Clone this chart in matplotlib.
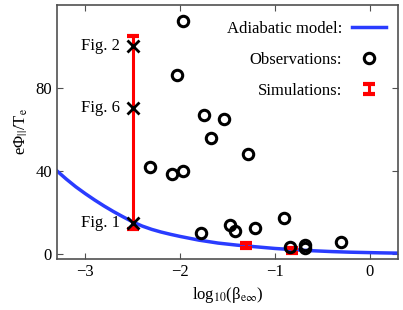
import matplotlib
matplotlib.use("Agg")
import matplotlib.pyplot as plt
from matplotlib.legend_handler import HandlerErrorbar
from matplotlib.container import ErrorbarContainer
import numpy as np

plt.rcParams['font.family'] = ['Liberation Serif', 'DejaVu Serif']
plt.rcParams['mathtext.fontset'] = 'stix'
plt.rcParams['font.size'] = 12

# Adiabatic model curve
model_x = [-3.3, -3.2, -3.1, -3.0, -2.9, -2.8, -2.7, -2.6, -2.5, -2.4, -2.3, -2.2, -2.1, -2.0,
           -1.9, -1.8, -1.7, -1.6, -1.5, -1.4, -1.3, -1.2, -1.1, -1.0, -0.9, -0.8, -0.7, -0.6,
           -0.5, -0.4, -0.3, -0.2, -0.1, 0.0, 0.1, 0.2, 0.3]
model_y = [40.0, 36.0, 32.3, 29.0, 25.9, 23.0, 20.3, 17.8, 15.4, 13.4, 11.8, 10.5, 9.4, 8.4,
           7.5, 6.6, 5.9, 5.2, 4.7, 4.2, 3.8, 3.4, 3.0, 2.6, 2.3, 2.0, 1.75, 1.5,
           1.3, 1.1, 0.95, 0.8, 0.7, 0.6, 0.5, 0.42, 0.35]

# Observations
obs_x = [-1.97, -2.03, -1.75, -1.54, -1.67, -1.28, -2.32, -2.08, -1.97, -1.78, -1.47, -1.42,
         -1.21, -0.90, -0.84, -0.68, -0.68, -0.30]
obs_y = [112.3, 85.9, 66.7, 64.8, 56.0, 48.0, 41.7, 38.4, 39.8, 10.1, 13.9, 11.0,
         12.5, 17.3, 3.4, 4.3, 3.0, 5.8]

# Simulations (range bars)
sim_x = [-2.5, -1.3, -0.82]
sim_lo = [12.0, 2.6, 0.4]
sim_hi = [105.0, 5.0, 2.8]

# Simulation figure points
fig_x = [-2.5, -2.5, -2.5]
fig_y = [100, 70, 15]
fig_labels = ["Fig. 2", "Fig. 6", "Fig. 1"]

fig = plt.figure(figsize=(4.03, 3.10), dpi=100)
ax = fig.add_axes([0.141, 0.165, 0.847, 0.82])

ax.plot(model_x, model_y, color='#2a3cff', lw=2.5, label='Adiabatic model:', zorder=2)
ax.plot(obs_x, obs_y, 'o', mfc='none', mec='black', mew=2.2, ms=7.5, label='Observations:', zorder=4)

sim_c = [(lo + hi) / 2 for lo, hi in zip(sim_lo, sim_hi)]
sim_e = [(hi - lo) / 2 for lo, hi in zip(sim_lo, sim_hi)]
ax.errorbar(sim_x, sim_c, yerr=sim_e, fmt='none', ecolor='#ff0000', elinewidth=2.2,
            capsize=4, capthick=3, label='Simulations:', zorder=3)

ax.plot(fig_x, fig_y, 'x', color='black', ms=8, mew=2, zorder=5)
for x, y, t in zip(fig_x, fig_y, fig_labels):
    ax.text(x - 0.13, y, t, ha='right', va='center', fontsize=12)

ax.set_xlim(-3.3, 0.3)
ax.set_ylim(-2.4, 120)
ax.set_xticks([-3, -2, -1, 0])
ax.set_yticks([0, 40, 80])
ax.tick_params(direction='in', top=True, right=True, length=4, color='#505050', labelsize=12)
for s in ax.spines.values():
    s.set_color('#505050')
    s.set_linewidth(1.2)

ax.set_xlabel(r'log$_{10}$(β$_{\mathrm{e}\infty}$)', fontsize=12, labelpad=4)
ax.set_ylabel(r'eΦ$_{||}$/T$_{\mathrm{e}}$', fontsize=12, labelpad=4)

leg = ax.legend(loc='upper right', bbox_to_anchor=(1.012, 1.0), frameon=False,
                markerfirst=False, fontsize=12, handlelength=2.0, labelspacing=0.9,
                borderaxespad=0.6, handletextpad=0.6,
                handler_map={ErrorbarContainer: HandlerErrorbar(yerr_size=0.3)})

fig.savefig('out.png', dpi=100)
